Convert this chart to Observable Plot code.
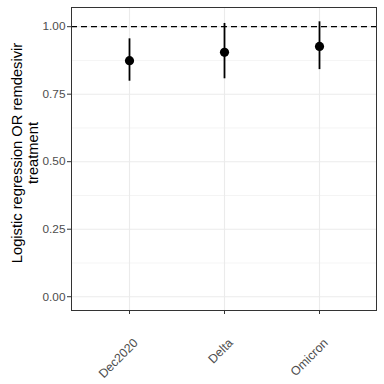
<!DOCTYPE html>
<html><head><meta charset="utf-8">
<script src="https://cdn.jsdelivr.net/npm/d3@7"></script>
<script src="https://cdn.jsdelivr.net/npm/@observablehq/plot@0.6"></script>
<style>body{margin:0;background:#fff;} svg{display:block;}</style>
</head><body><div id="chart"></div>
<script>
const categories = ["Dec2020", "Delta", "Omicron"];
const estimates = [0.874, 0.905, 0.927];
const lower = [0.798, 0.807, 0.841];
const upper = [0.955, 1.012, 1.018];
const yTicks = [0, 0.25, 0.5, 0.75, 1];
const yMinor = [0.125, 0.375, 0.625, 0.875];
const refLine = [1];
const yTitle = "Logistic regression OR remdesivir\ntreatment";

const data = categories.map((c, i) => ({cat: c, est: estimates[i], lo: lower[i], hi: upper[i]}));

const chart = Plot.plot({
  width: 384, height: 384,
  marginLeft: 71, marginRight: 8, marginTop: 7, marginBottom: 74,
  style: {fontFamily: "Liberation Sans, Arial, sans-serif", background: "#fff"},
  x: {type: "point", domain: categories, padding: 0.6, axis: null},
  y: {domain: [-0.051, 1.071], axis: null},
  marks: [
    Plot.gridY(yMinor, {stroke: "#ebebeb", strokeOpacity: 1, strokeWidth: 0.55}),
    Plot.gridY(yTicks, {stroke: "#ebebeb", strokeOpacity: 1, strokeWidth: 1.1}),
    Plot.gridX(categories, {stroke: "#ebebeb", strokeOpacity: 1, strokeWidth: 1.1}),
    Plot.ruleY(refLine, {stroke: "#000", strokeWidth: 1.3, strokeDasharray: "6,4"}),
    Plot.ruleX(data, {x: "cat", y1: "lo", y2: "hi", stroke: "#000", strokeWidth: 1.8}),
    Plot.dot(data, {x: "cat", y: "est", r: 4.6, fill: "#000", stroke: "none"}),
    Plot.frame({stroke: "#333333", strokeWidth: 1}),
    Plot.axisY(yTicks, {tickSize: 4, tickPadding: 2, tickFormat: d3.format(".2f"), fontSize: 11.8, fill: "#4d4d4d", stroke: "#333333", label: null}),
    Plot.axisX(categories, {tickSize: 4, tickFormat: () => "", stroke: "#333333", label: null}),
    Plot.text(categories, {x: d => d, frameAnchor: "bottom", dx: 3, dy: 27, rotate: -45, textAnchor: "end", lineAnchor: "top", fontSize: 12.4, fill: "#4d4d4d"}),
    Plot.text([yTitle], {frameAnchor: "left", dx: -47, dy: -6, rotate: -90, textAnchor: "middle", lineAnchor: "middle", fontSize: 14.7, fill: "#000", lineHeight: 1.1})
  ]
});
document.getElementById("chart").appendChild(chart);
</script>
</body></html>
